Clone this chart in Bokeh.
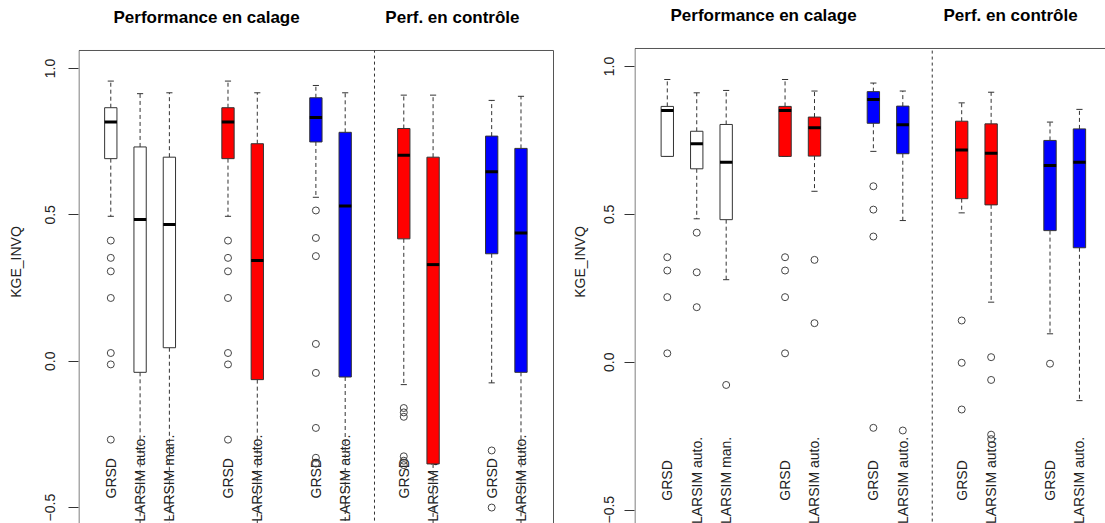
from math import pi
from bokeh.plotting import figure
from bokeh.layouts import row
from bokeh.models import Range1d, FixedTicker
from bokeh.core.properties import value
from bokeh.embed import file_html
from bokeh.resources import INLINE

FONT = "Liberation Sans"

# ---------------- data ----------------
POSITIONS = [1, 2, 3, 5, 6, 8, 9, 11, 12, 14, 15]
LABELS = ["GRSD", "LARSIM auto.", "LARSIM man.", "GRSD", "LARSIM auto.",
          "GRSD", "LARSIM auto.", "GRSD", "LARSIM auto.", "GRSD", "LARSIM auto."]
FILLS = ["white", "white", "white", "red", "red", "blue", "blue",
         "red", "red", "blue", "blue"]
TITLES = ["Performance en calage", "Perf. en contrôle"]
TITLE_X = [4.27, 12.66]
SEPARATOR_X = 10
Y_TICKS = [-0.5, 0.0, 0.5, 1.0]
Y_TICK_LABELS = ["\u22120.5", "0.0", "0.5", "1.0"]
Y_LABEL = "KGE_INVQ"

# left panel
A_UPPER = [0.957, 0.914, 0.917, 0.957, 0.917, 0.942, 0.917, 0.909, 0.909, 0.891, 0.905]
A_Q3 = [0.866, 0.732, 0.697, 0.866, 0.743, 0.900, 0.782, 0.795, 0.697, 0.769, 0.727]
A_MED = [0.817, 0.484, 0.467, 0.817, 0.344, 0.833, 0.530, 0.704, 0.330, 0.647, 0.438]
A_Q1 = [0.692, -0.038, 0.046, 0.692, -0.063, 0.749, -0.054, 0.418, -0.351, 0.367, -0.038]
A_LOWER = [0.495, -0.80, -0.75, 0.495, -0.80, 0.560, -0.80, -0.080, -0.85, -0.074, -0.80]
A_OUTLIERS = [
    [0.412, 0.353, 0.307, 0.216, 0.028, -0.011, -0.268],
    [], [],
    [0.412, 0.353, 0.307, 0.216, 0.028, -0.011, -0.268],
    [],
    [0.515, 0.421, 0.359, 0.059, -0.040, -0.228, -0.33, -0.35],
    [],
    [-0.16, -0.175, -0.19, -0.325, -0.34, -0.355],
    [],
    [-0.305, -0.50],
    [],
]

# right panel
B_UPPER = [0.956, 0.911, 0.919, 0.956, 0.917, 0.944, 0.917, 0.877, 0.913, 0.812, 0.855]
B_Q3 = [0.865, 0.781, 0.804, 0.865, 0.829, 0.915, 0.866, 0.815, 0.806, 0.750, 0.789]
B_MED = [0.851, 0.739, 0.676, 0.851, 0.793, 0.888, 0.803, 0.718, 0.707, 0.665, 0.676]
B_Q1 = [0.696, 0.654, 0.482, 0.696, 0.697, 0.808, 0.705, 0.553, 0.532, 0.445, 0.387]
B_LOWER = [0.696, 0.485, 0.279, 0.696, 0.578, 0.713, 0.479, 0.505, 0.203, 0.096, -0.130]
B_OUTLIERS = [
    [0.355, 0.310, 0.220, 0.030],
    [0.438, 0.304, 0.186],
    [-0.077],
    [0.355, 0.310, 0.220, 0.030],
    [0.346, 0.132],
    [0.595, 0.516, 0.425, -0.222],
    [-0.231],
    [0.141, -0.002, -0.16],
    [0.017, -0.060, -0.245, -0.26],
    [-0.005],
    [],
]

# ---------------- style / layout ----------------
BOX_W = 0.42
CAP_W = 0.21
LABEL_Y = -0.40
EDGE = "#333333"
FRAME = "#555555"


def make_panel(width, border_left, x_range, y_range, box_lr, box_top, title_y,
               tick_standoff, label_standoff,
               upper, q3, med, q1, lower, outliers):
    p = figure(width=width, height=523, x_range=Range1d(*x_range),
               y_range=Range1d(*y_range), output_backend="svg",
               toolbar_location=None, x_axis_location=None,
               min_border_left=border_left, min_border_right=0,
               min_border_top=0, min_border_bottom=0,
               outline_line_color=None, background_fill_color="white",
               border_fill_color="white")
    p.grid.visible = False
    ax = p.yaxis[0]
    ax.ticker = FixedTicker(ticks=Y_TICKS)
    ax.major_label_overrides = {t: l for t, l in zip(Y_TICKS, Y_TICK_LABELS)}
    ax.axis_line_color = None
    ax.minor_tick_line_color = None
    ax.major_tick_in = 0
    ax.major_tick_out = 10
    ax.major_tick_line_color = EDGE
    ax.major_label_orientation = "vertical"
    ax.major_label_standoff = tick_standoff
    ax.major_label_text_font = FONT
    ax.major_label_text_font_size = "14px"
    ax.major_label_text_color = "#222222"
    ax.axis_label = Y_LABEL
    ax.axis_label_standoff = label_standoff
    ax.axis_label_text_font = FONT
    ax.axis_label_text_font_size = "14px"
    ax.axis_label_text_font_style = "normal"
    ax.axis_label_text_color = "#222222"

    xl, xr = box_lr
    # frame (left, top, right)
    p.segment(x0=[xl, xl, xr], y0=[-2, box_top, -2], x1=[xl, xr, xr],
              y1=[box_top, box_top, box_top], line_color=FRAME, line_width=1)
    # separator
    p.segment(x0=[SEPARATOR_X], y0=[-2], x1=[SEPARATOR_X], y1=[box_top],
              line_color=EDGE, line_width=1, line_dash="3 3")

    # titles
    p.text(x=TITLE_X, y=[title_y] * len(TITLES), text=TITLES,
           text_font=value(FONT), text_font_size="17px", text_font_style="bold",
           text_align="center", text_baseline="middle", text_color="black")

    # labels (under the boxes)
    p.text(x=POSITIONS, y=[LABEL_Y] * len(POSITIONS), text=LABELS, angle=pi / 2,
           text_font=value(FONT), text_font_size="14px", text_align="center",
           text_baseline="middle", text_color="#222222")

    # whiskers
    p.segment(x0=POSITIONS, y0=q3, x1=POSITIONS, y1=upper, line_color=EDGE,
              line_width=1, line_dash="4 3")
    p.segment(x0=POSITIONS, y0=q1, x1=POSITIONS, y1=lower, line_color=EDGE,
              line_width=1, line_dash="4 3")
    # staples
    xs0 = [x - CAP_W / 2 for x in POSITIONS]
    xs1 = [x + CAP_W / 2 for x in POSITIONS]
    p.segment(x0=xs0, y0=upper, x1=xs1, y1=upper, line_color=EDGE, line_width=1)
    p.segment(x0=xs0, y0=lower, x1=xs1, y1=lower, line_color=EDGE, line_width=1)

    # boxes
    p.vbar(x=POSITIONS, width=BOX_W, top=q3, bottom=q1, fill_color=FILLS,
           line_color=EDGE, line_width=1)
    # medians
    p.segment(x0=[x - BOX_W / 2 for x in POSITIONS], y0=med,
              x1=[x + BOX_W / 2 for x in POSITIONS], y1=med,
              line_color="black", line_width=3)

    # outliers
    ox, oy = [], []
    for x, vals in zip(POSITIONS, outliers):
        for v in vals:
            ox.append(x)
            oy.append(v)
    p.scatter(x=ox, y=oy, marker="circle", size=7, fill_color=None,
              line_color="#444444", line_width=1)
    return p


p1 = make_panel(555, 78, (-0.1021, 16.178), (-0.5545, 1.2323), (-0.085, 16.11),
                1.0615, 1.174, 13, 19,
                A_UPPER, A_Q3, A_MED, A_Q1, A_LOWER, A_OUTLIERS)
p2 = make_panel(550, 79, (-0.114, 15.885), (-0.5455, 1.2232), (-0.097, 16.09),
                1.0609, 1.172, 10, 14,
                B_UPPER, B_Q3, B_MED, B_Q1, B_LOWER, B_OUTLIERS)

layout = row(p1, p2)
open("out.html", "w").write(file_html(layout, INLINE))
